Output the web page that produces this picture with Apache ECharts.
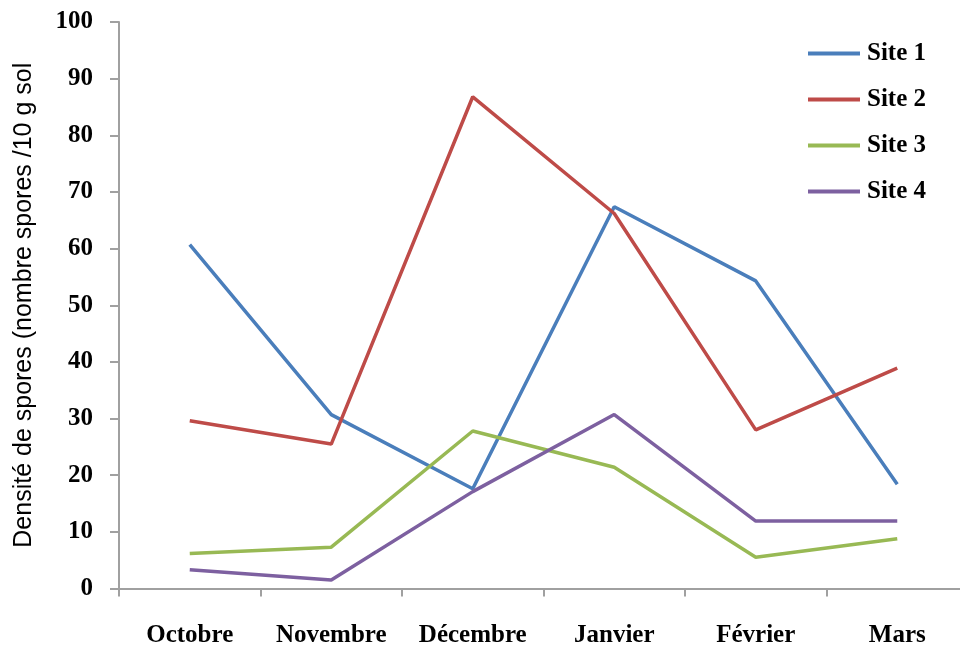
<!DOCTYPE html>
<html>
<head>
<meta charset="utf-8">
<script src="https://cdn.jsdelivr.net/npm/echarts@6/dist/echarts.min.js"></script>
<style>html,body{margin:0;padding:0;background:#fff}#c{width:960px;height:650px}</style>
</head>
<body>
<div id="c"></div>
<script>
var months = ['Octobre', 'Novembre', 'Décembre', 'Janvier', 'Février', 'Mars'];
var site1 = [60.7, 30.7, 17.6, 67.4, 54.3, 18.4];
var site2 = [29.6, 25.5, 86.8, 66.2, 28.0, 38.9];
var site3 = [6.2, 7.3, 27.8, 21.4, 5.5, 8.8];
var site4 = [3.3, 1.5, 17.1, 30.7, 11.9, 11.9];
var seriesNames = ['Site 1', 'Site 2', 'Site 3', 'Site 4'];
var colors = ['#4a7ebb', '#be4b48', '#98b954', '#7d60a0'];

var serif = '"Liberation Serif", "Times New Roman", serif';
var chart = echarts.init(document.getElementById('c'));
var data = [site1, site2, site3, site4];
chart.setOption({
  animation: false,
  backgroundColor: '#ffffff',
  color: colors,
  grid: { left: 119, width: 849, top: 22, height: 566.5, containLabel: false, outerBoundsMode: 'none' },
  legend: {
    orient: 'vertical',
    left: 803,
    top: 36,
    icon: 'rect',
    itemWidth: 52,
    itemHeight: 4,
    itemGap: 21,
    textStyle: { fontFamily: serif, fontWeight: 'bold', fontSize: 25, color: '#000', padding: [0, 0, 0, 2] },
    data: seriesNames
  },
  xAxis: {
    type: 'category',
    data: months,
    boundaryGap: true,
    axisLine: { lineStyle: { color: '#a0a0a0', width: 2 } },
    axisTick: { show: true, interval: 0, length: 8, lineStyle: { color: '#a0a0a0', width: 2 } },
    axisLabel: { interval: 0, margin: 35, fontFamily: serif, fontWeight: 'bold', fontSize: 25, color: '#000' },
    splitLine: { show: false }
  },
  yAxis: {
    type: 'value',
    min: 0,
    max: 100,
    interval: 10,
    name: 'Densité de spores (nombre spores /10 g sol',
    nameLocation: 'middle',
    nameGap: 82,
    nameTextStyle: { fontFamily: '"Liberation Sans", Arial, sans-serif', fontSize: 25, color: '#000' },
    axisLine: { show: true, lineStyle: { color: '#a0a0a0', width: 2 } },
    axisTick: { show: true, length: 9, lineStyle: { color: '#a0a0a0', width: 2 } },
    axisLabel: { margin: 26, fontFamily: serif, fontWeight: 'bold', fontSize: 25, color: '#000' },
    splitLine: { show: false }
  },
  series: seriesNames.map(function (n, i) {
    return {
      name: n,
      type: 'line',
      data: data[i],
      symbol: 'none',
      lineStyle: { width: 3.5, color: colors[i] },
      itemStyle: { color: colors[i] }
    };
  })
});
</script>
</body>
</html>
